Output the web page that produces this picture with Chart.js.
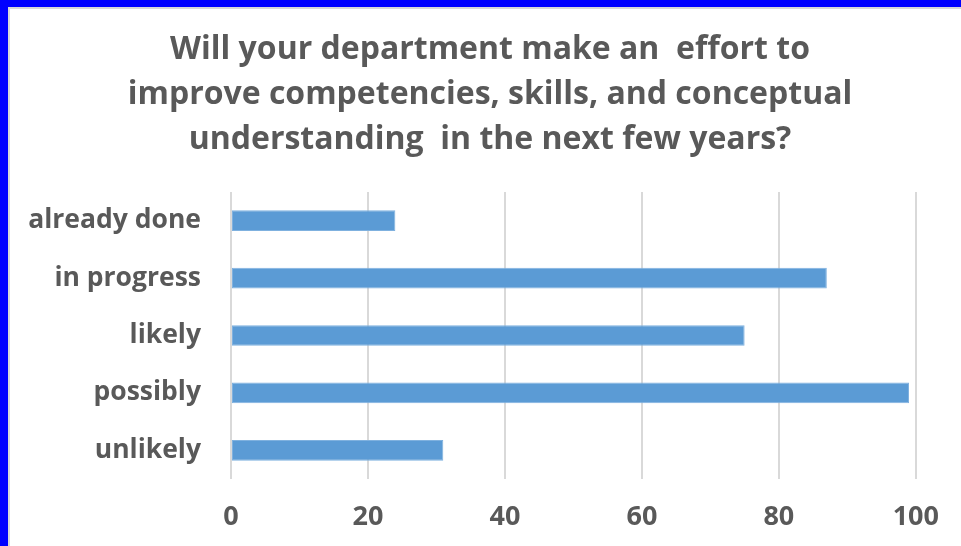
<!DOCTYPE html>
<html>
<head>
<meta charset="utf-8">
<script src="https://cdn.jsdelivr.net/npm/chart.js@4.4.1/dist/chart.umd.min.js"></script>
<style>
  html, body { margin: 0; padding: 0; }
  body { width: 961px; height: 546px; background: #0000ff; position: relative; overflow: hidden; }
  #frame {
    position: absolute; left: 8px; top: 7px; width: 953px; height: 539px;
    background: #ffffff; border-left: 2px solid #d9d9d9; border-top: 2px solid #d9d9d9;
    box-sizing: border-box;
  }
  #wrap { position: absolute; left: 0; top: 0; width: 951px; height: 537px; }
  #wrap canvas { display: block; }
</style>
</head>
<body>
<div id="frame"><div id="wrap"><canvas id="chart" width="951" height="537"></canvas></div></div>
<script>
// Survey answers, top to bottom
const categories = ['already done', 'in progress', 'likely', 'possibly', 'unlikely'];
const responses = [24, 87, 75, 99, 31];
const xTicks = [0, 20, 40, 60, 80, 100];
const titleLines = [
  'Will your department make an  effort to',
  'improve competencies, skills, and conceptual',
  'understanding  in the next few years?'
];

const textGray = '#595959';
const fontFamily = "'Open Sans', 'Liberation Sans', sans-serif";

new Chart(document.getElementById('chart'), {
  type: 'bar',
  data: {
    labels: categories,
    datasets: [{
      data: responses,
      backgroundColor: '#5b9bd5',
      borderColor: '#7fb1df',
      borderWidth: 1,
      borderSkipped: false,
      barPercentage: 0.36,
      categoryPercentage: 1.0
    }]
  },
  options: {
    indexAxis: 'y',
    responsive: false,
    animation: false,
    events: [],
    layout: { padding: { left: 9, right: 0, top: 0, bottom: 0 } },
    plugins: {
      legend: { display: false },
      tooltip: { enabled: false },
      title: {
        display: true,
        text: titleLines,
        color: textGray,
        font: { family: fontFamily, size: 32, weight: 'bold', lineHeight: 1.406 },
        padding: { top: 18.5, bottom: 29.5 }
      }
    },
    scales: {
      x: {
        min: 0,
        max: 100,
        afterBuildTicks: (scale) => { scale.ticks = xTicks.map(v => ({ value: v })); },
        afterFit: (scale) => { scale.height = 67; },
        grid: { color: '#d9d9d9', lineWidth: 2, drawTicks: false },
        border: { display: false },
        ticks: {
          color: textGray,
          padding: 22,
          font: { family: fontFamily, size: 27, weight: 'bold' }
        }
      },
      y: {
        afterFit: (scale) => { scale.width = 212; },
        grid: { display: false },
        border: { display: false },
        ticks: {
          color: textGray,
          padding: 22,
          font: { family: fontFamily, size: 26.5, weight: 'bold' }
        }
      },
      // empty margin on the right of the plot, leaves room for the "100" label
      yRight: {
        type: 'category',
        position: 'right',
        afterFit: (scale) => { scale.width = 44; },
        grid: { display: false },
        border: { display: false },
        ticks: { display: false }
      }
    }
  }
});
</script>
</body>
</html>
